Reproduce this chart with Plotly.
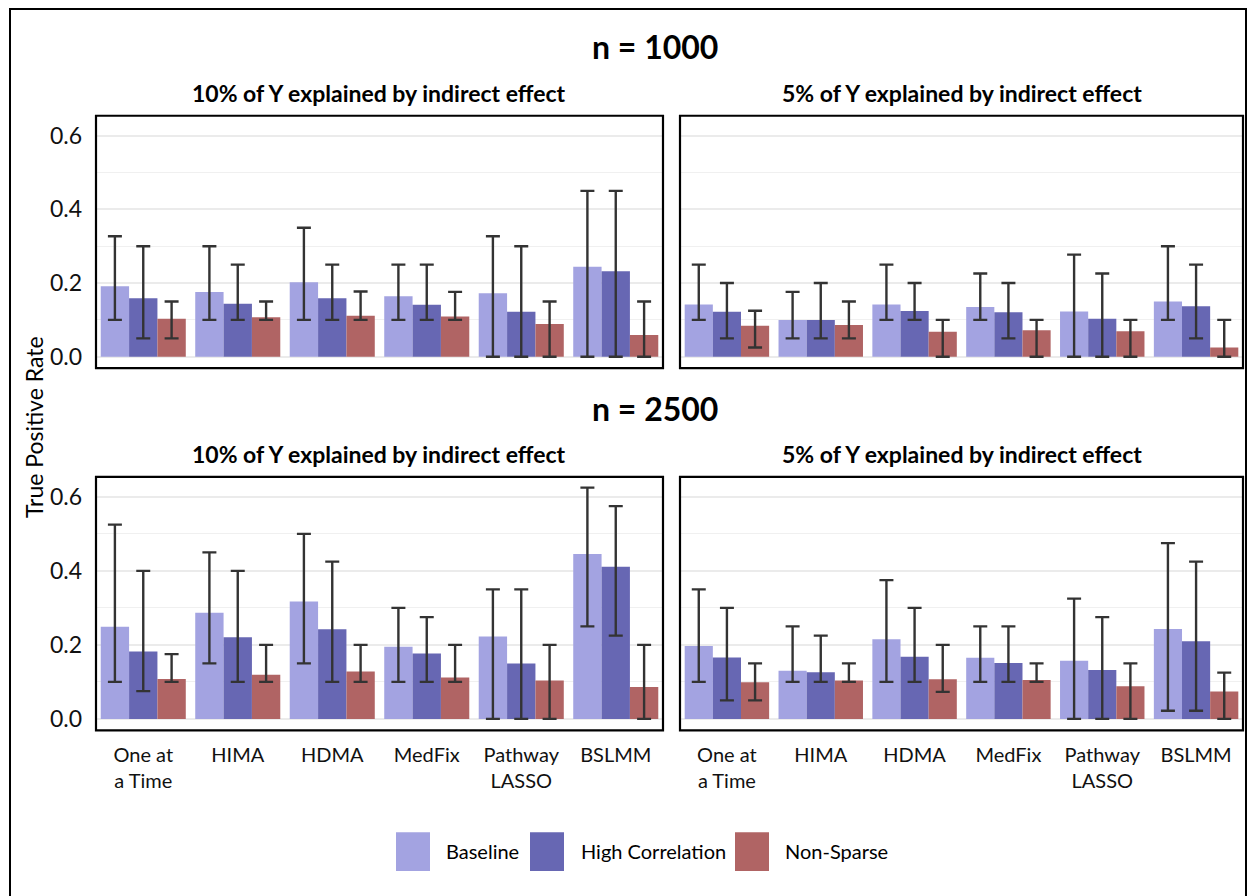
import plotly.graph_objects as go

# ---------------- data ----------------
methods = ["One at<br>a Time", "HIMA", "HDMA", "MedFix", "Pathway<br>LASSO", "BSLMM"]
scenarios = ["Baseline", "High Correlation", "Non-Sparse"]
colors = ["#A3A3E1", "#6767B3", "#B06464"]

# n = 1000, 10% of Y explained by indirect effect
a_base = [0.191, 0.176, 0.202, 0.164, 0.172, 0.244]
a_base_lo = [0.10, 0.10, 0.10, 0.10, 0.00, 0.00]
a_base_hi = [0.327, 0.30, 0.35, 0.25, 0.327, 0.45]
a_hc = [0.159, 0.144, 0.159, 0.141, 0.122, 0.232]
a_hc_lo = [0.05, 0.10, 0.10, 0.10, 0.00, 0.00]
a_hc_hi = [0.30, 0.25, 0.25, 0.25, 0.30, 0.45]
a_ns = [0.103, 0.107, 0.111, 0.109, 0.089, 0.059]
a_ns_lo = [0.05, 0.10, 0.10, 0.10, 0.00, 0.00]
a_ns_hi = [0.15, 0.15, 0.177, 0.176, 0.15, 0.15]

# n = 1000, 5% of Y explained by indirect effect
b_base = [0.142, 0.100, 0.142, 0.135, 0.123, 0.150]
b_base_lo = [0.10, 0.05, 0.10, 0.10, 0.00, 0.10]
b_base_hi = [0.25, 0.176, 0.25, 0.226, 0.277, 0.30]
b_hc = [0.122, 0.100, 0.124, 0.121, 0.103, 0.137]
b_hc_lo = [0.05, 0.05, 0.10, 0.05, 0.00, 0.05]
b_hc_hi = [0.20, 0.20, 0.20, 0.20, 0.226, 0.25]
b_ns = [0.084, 0.086, 0.068, 0.072, 0.069, 0.025]
b_ns_lo = [0.025, 0.05, 0.00, 0.00, 0.00, 0.00]
b_ns_hi = [0.125, 0.15, 0.10, 0.10, 0.10, 0.10]

# n = 2500, 10% of Y explained by indirect effect
c_base = [0.249, 0.287, 0.317, 0.195, 0.223, 0.446]
c_base_lo = [0.10, 0.15, 0.15, 0.10, 0.00, 0.25]
c_base_hi = [0.525, 0.45, 0.50, 0.30, 0.35, 0.625]
c_hc = [0.182, 0.221, 0.242, 0.177, 0.150, 0.411]
c_hc_lo = [0.075, 0.10, 0.10, 0.10, 0.00, 0.225]
c_hc_hi = [0.40, 0.40, 0.425, 0.275, 0.35, 0.575]
c_ns = [0.108, 0.119, 0.128, 0.112, 0.104, 0.086]
c_ns_lo = [0.10, 0.10, 0.10, 0.10, 0.00, 0.00]
c_ns_hi = [0.175, 0.20, 0.20, 0.20, 0.20, 0.20]

# n = 2500, 5% of Y explained by indirect effect
d_base = [0.197, 0.130, 0.215, 0.165, 0.157, 0.243]
d_base_lo = [0.10, 0.10, 0.10, 0.10, 0.00, 0.022]
d_base_hi = [0.35, 0.25, 0.375, 0.25, 0.325, 0.475]
d_hc = [0.166, 0.126, 0.168, 0.151, 0.132, 0.210]
d_hc_lo = [0.05, 0.10, 0.10, 0.10, 0.00, 0.022]
d_hc_hi = [0.30, 0.225, 0.30, 0.25, 0.275, 0.425]
d_ns = [0.099, 0.104, 0.107, 0.105, 0.088, 0.074]
d_ns_lo = [0.05, 0.10, 0.073, 0.10, 0.00, 0.00]
d_ns_hi = [0.15, 0.15, 0.20, 0.15, 0.15, 0.125]

panel_titles = ["10% of Y explained by indirect effect", "5% of Y explained by indirect effect"]
row_titles = ["n = 1000", "n = 2500"]
y_ticks = [0.0, 0.2, 0.4, 0.6]

# ---------------- layout helpers ----------------
W, H = 1248, 896
FONT = "Lato"


def px_x(p):
    return p / W


def px_y(p):
    return 1 - p / H


panels = [
    ("", (a_base, a_base_lo, a_base_hi, a_hc, a_hc_lo, a_hc_hi, a_ns, a_ns_lo, a_ns_hi), (96, 663), (116, 369), True, False),
    ("2", (b_base, b_base_lo, b_base_hi, b_hc, b_hc_lo, b_hc_hi, b_ns, b_ns_lo, b_ns_hi), (680, 1243), (116, 369), False, False),
    ("3", (c_base, c_base_lo, c_base_hi, c_hc, c_hc_lo, c_hc_hi, c_ns, c_ns_lo, c_ns_hi), (96, 663), (478, 732), True, True),
    ("4", (d_base, d_base_lo, d_base_hi, d_hc, d_hc_lo, d_hc_hi, d_ns, d_ns_lo, d_ns_hi), (680, 1243), (478, 732), False, True),
]

fig = go.Figure()
layout_axes = {}
shapes = []

for k, (suf, data, xd, yd, show_y, show_x) in enumerate(panels):
    for s in range(3):
        mean, lo, hi = data[3 * s], data[3 * s + 1], data[3 * s + 2]
        fig.add_trace(go.Bar(
            x=methods, y=mean,
            name=scenarios[s],
            marker=dict(color=colors[s], line=dict(width=0)),
            error_y=dict(type="data", symmetric=False,
                         array=[h - m for h, m in zip(hi, mean)],
                         arrayminus=[m - l for m, l in zip(mean, lo)],
                         color="#333333", thickness=2.4, width=7),
            xaxis="x" + suf, yaxis="y" + suf,
            showlegend=False,
        ))
    layout_axes["xaxis" + suf] = dict(
        domain=[px_x(xd[0]), px_x(xd[1])],
        anchor="y" + suf,
        type="category", categoryorder="array", categoryarray=methods,
        showticklabels=show_x, ticks="", showgrid=False, showline=False, zeroline=False,
        ticklabelstandoff=11,
        tickfont=dict(family=FONT, size=20, color="#111111"),
    )
    layout_axes["yaxis" + suf] = dict(
        domain=[px_y(yd[1]), px_y(yd[0])],
        anchor="x" + suf,
        range=[-0.031, 0.654],
        tickvals=y_ticks, tickformat=".1f",
        showticklabels=show_y, ticks="",
        ticklabelstandoff=13,
        showgrid=True, gridcolor="#EBEBEB", gridwidth=2,
        minor=dict(dtick=0.1, tick0=0, showgrid=True, gridcolor="#F0F0F0", gridwidth=1),
        zeroline=False, showline=False,
        tickfont=dict(family=FONT, size=23, color="#111111"),
    )
    shapes.append(dict(type="rect", xref="paper", yref="paper",
                       x0=px_x(xd[0]), x1=px_x(xd[1]), y0=px_y(yd[1]), y1=px_y(yd[0]),
                       line=dict(color="black", width=2.2), layer="above"))

# outer frame
shapes.append(dict(type="rect", xref="paper", yref="paper",
                   x0=px_x(10), x1=px_x(1246), y0=px_y(910), y1=px_y(9),
                   line=dict(color="black", width=2), layer="above"))

annotations = []
for t, yp in zip(row_titles, [47, 409]):
    annotations.append(dict(text="<b>" + t + "</b>", x=px_x(655), y=px_y(yp), xref="paper", yref="paper",
                            showarrow=False, xanchor="center", yanchor="middle",
                            font=dict(family=FONT, size=32, color="black")))
for yp in [93, 455]:
    for t, xc in zip(panel_titles, [379.5, 962]):
        annotations.append(dict(text="<b>" + t + "</b>", x=px_x(xc), y=px_y(yp), xref="paper", yref="paper",
                                showarrow=False, xanchor="center", yanchor="middle",
                                font=dict(family=FONT, size=23, color="black")))
annotations.append(dict(text="True Positive Rate", x=px_x(34), y=px_y(428), xref="paper", yref="paper",
                        showarrow=False, textangle=-90, xanchor="center", yanchor="middle",
                        font=dict(family=FONT, size=23, color="black")))

# legend (key swatches + labels)
legend_swatch_x = [396, 530, 735]
legend_label_x = [444, 579, 783]
for s in range(3):
    shapes.append(dict(type="rect", xref="paper", yref="paper",
                       x0=px_x(legend_swatch_x[s]), x1=px_x(legend_swatch_x[s] + 34),
                       y0=px_y(873), y1=px_y(834),
                       fillcolor=colors[s], line=dict(width=0)))
    annotations.append(dict(text=scenarios[s], x=px_x(legend_label_x[s]), y=px_y(853),
                            xref="paper", yref="paper", showarrow=False,
                            xanchor="left", yanchor="middle",
                            font=dict(family=FONT, size=20, color="black")))

fig.update_layout(
    width=W, height=H,
    margin=dict(l=0, r=0, t=0, b=0),
    paper_bgcolor="white", plot_bgcolor="white",
    barmode="group", bargap=0.1, bargroupgap=0,
    showlegend=False,
    shapes=shapes, annotations=annotations,
    font=dict(family=FONT, color="black"),
    **layout_axes,
)

fig.write_html(
    "out.html",
    config={"displayModeBar": False},
    post_script="document.body.style.margin='0';document.body.style.overflow='hidden';",
)
